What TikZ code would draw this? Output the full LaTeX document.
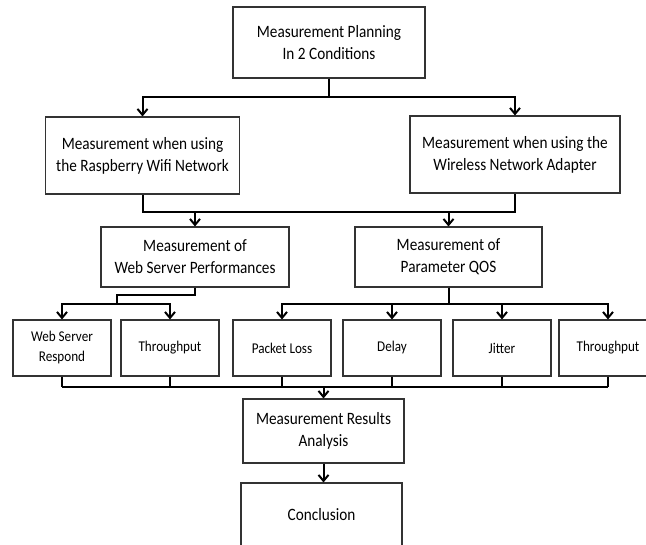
\documentclass[tikz,border=0pt]{standalone}
\usepackage{fontspec}
\setmainfont{Carlito}[FakeStretch=0.88]
\usetikzlibrary{arrows.meta,positioning,calc}

\begin{document}
\begin{tikzpicture}[x=0.75pt, y=-0.75pt,
  every node/.style={font=\fontsize{13pt}{16.5pt}\selectfont, align=center},
  box/.style={draw=black!80, line width=0.8pt, inner sep=0pt},
  small/.style={font=\fontsize{11.2pt}{15pt}\selectfont},
  link/.style={line width=1.5pt},
  arr/.style={link, -{Straight Barb[length=4.5pt,width=7.5pt]}}]
  \def\u{0.75pt}
  \useasboundingbox (0,0) rectangle (646,544);
  % planning (top)
  \node[box, minimum width=192*\u, minimum height=71*\u] (plan) at (329,42.5) {Measurement Planning\\In 2 Conditions};
  % two conditions
  \node[box, minimum width=194*\u, minimum height=77*\u] (rasp) at (142.5,155.5) {Measurement when using\\the Raspberry Wifi Network};
  \node[box, minimum width=210*\u, minimum height=77*\u] (adapt) at (515,154.5) {Measurement when using the\\Wireless Network Adapter};
  % two kinds of measurement
  \node[box, minimum width=188*\u, minimum height=60*\u] (web) at (195,257) {Measurement of\\Web Server Performances};
  \node[box, minimum width=187*\u, minimum height=60*\u] (qos) at (448.5,257) {Measurement of\\Parameter QOS};
  % parameters (row of six)
  \foreach \n/\x/\t in {wsr/62/{Web Server\\Respond}, thr1/170/Throughput, loss/282/Packet Loss,
                        delay/392/Delay, jitter/502/Jitter, thr2/608/Throughput}
    \node[box, small, minimum width=98*\u, minimum height=56*\u] (\n) at (\x,348) {\t};
  % results and conclusion
  \node[box, minimum width=161*\u, minimum height=64*\u] (ana) at (323.5,431) {Measurement Results\\Analysis};
  \node[box, minimum width=161*\u, minimum height=64*\u] (concl) at (321.5,515) {Conclusion};

  % connectors
  \coordinate (busP) at (0,97);
  \coordinate (busB) at (0,212);
  \coordinate (jogW) at (117,295);
  \coordinate (busW) at (0,304);
  \coordinate (busR) at (0,387);
  \draw[arr] (plan.south) -- (plan.south |- busP) -| (rasp.north);
  \draw[arr] (plan.south) -- (plan.south |- busP) -| (adapt.north);
  \draw[link] (rasp.south) -- (rasp.south |- busB) -- (adapt.south |- busB) -- (adapt.south);
  \draw[arr] (web.north |- busB) -- (web.north);
  \draw[arr] (qos.north |- busB) -- (qos.north);
  \draw[link] (web.south) |- (jogW) -- (jogW |- busW);
  \draw[arr] (jogW |- busW) -| (wsr.north);
  \draw[arr] (jogW |- busW) -| (thr1.north);
  \foreach \n in {loss,delay,jitter,thr2}
    \draw[arr] (qos.south) -- (qos.south |- busW) -| (\n.north);
  \foreach \n in {wsr,thr1,loss,delay,jitter,thr2}
    \draw[link] (\n.south) -- (\n.south |- busR);
  \draw[link] (wsr.south |- busR) -- (thr2.south |- busR);
  \draw[arr] (ana.north |- busR) -- (ana.north);
  \draw[arr] (ana.south) -- (ana.south |- concl.north);
\end{tikzpicture}
\end{document}
